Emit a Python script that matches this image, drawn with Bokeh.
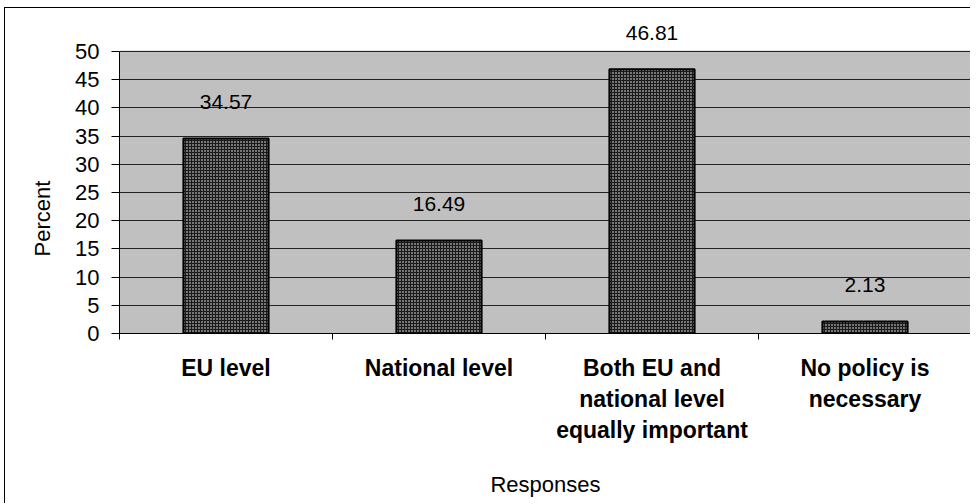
from bokeh.plotting import figure
from bokeh.models import Range1d, FixedTicker, ColumnDataSource, Label, LinearAxis, Title
from bokeh.embed import file_html
from bokeh.resources import INLINE

categories = ["EU level", "National level",
              "Both EU and\nnational level\nequally important",
              "No policy is\nnecessary"]
values = [34.57, 16.49, 46.81, 2.13]
value_labels = ["34.57", "16.49", "46.81", "2.13"]
y_ticks = [0, 5, 10, 15, 20, 25, 30, 35, 40, 45, 50]

FONT = "Liberation Sans"
n = len(categories)
y_max = y_ticks[-1]
xs = [i + 0.5 for i in range(n)]
src = ColumnDataSource(dict(x=xs, top=values, label=value_labels, cat=categories))

# y range extends a little above the gray area so the top value label has room
p = figure(width=966, height=496, x_range=Range1d(0, n), y_range=Range1d(0, 56),
           output_backend="svg", toolbar_location=None,
           x_axis_location=None, y_axis_location=None,
           min_border_left=114, min_border_top=9, min_border_right=0,
           min_border_bottom=171)
p.styles = {"border-left": "1px solid black", "border-top": "1px solid black",
            "margin-left": "4px", "margin-top": "7px"}
p.background_fill_color = "white"
p.border_fill_color = "white"
p.outline_line_color = None

# gray plot area
bg = p.quad(left=0, right=n, bottom=0, top=y_max, fill_color="#c0c0c0",
            line_color="#555555", line_width=1)
bg.level = "image"

p.vbar(x="x", top="top", width=0.4, bottom=0, source=src,
       fill_color="#1a1a1a", hatch_pattern="dot", hatch_color="white",
       hatch_scale=3, hatch_weight=1.2,
       line_color="black", line_width=2)

# value labels
for xv, yv, txt in zip(xs, values, value_labels):
    p.add_layout(Label(x=xv, y=yv, text=txt, y_offset=36,
                       text_align="center", text_baseline="alphabetic",
                       text_font=FONT, text_font_size="21px", text_color="black"))

p.xgrid.visible = False
p.ygrid.ticker = FixedTicker(ticks=y_ticks)
p.ygrid.grid_line_color = "#222222"
p.ygrid.grid_line_width = 1

# x axis with boundary ticks (no labels drawn)
xa = LinearAxis(ticker=FixedTicker(ticks=list(range(n + 1))))
xa.major_label_text_font_size = "0px"
xa.major_label_text_color = None
xa.major_label_standoff = 0
xa.major_tick_out = 6
xa.major_tick_in = 0
xa.minor_tick_line_color = None
xa.axis_line_color = "black"
xa.major_tick_line_color = "black"
p.add_layout(xa, "below")

# category label axis
xc = LinearAxis(ticker=FixedTicker(ticks=xs))
xc.major_label_overrides = {xv: c for xv, c in zip(xs, categories)}
xc.major_label_text_font = FONT
xc.major_label_text_font_size = "23px"
xc.major_label_text_font_style = "bold"
xc.major_label_text_color = "black"
xc.major_label_text_line_height = 1.2
xc.major_label_standoff = 15
xc.major_tick_out = 0
xc.major_tick_line_color = None
xc.minor_tick_line_color = None
xc.axis_line_color = None
xc.axis_label = "Responses"
xc.axis_label_text_font = FONT
xc.axis_label_text_font_size = "22px"
xc.axis_label_text_font_style = "normal"
xc.axis_label_text_color = "black"
xc.axis_label_standoff = 26
p.add_layout(xc, "below")

# y axis with ticks and labels
ya = LinearAxis(ticker=FixedTicker(ticks=y_ticks), bounds=(0, y_max))
ya.major_label_text_font = FONT
ya.major_label_text_font_size = "22px"
ya.major_label_text_color = "black"
ya.major_label_standoff = 12
ya.major_tick_out = 8
ya.major_tick_in = 0
ya.minor_tick_line_color = None
ya.axis_line_color = "black"
ya.major_tick_line_color = "black"
p.add_layout(ya, "left")

# y axis title
yt = Title(text="Percent", align="left", offset=77, standoff=36,
           text_font=FONT, text_font_size="22px", text_font_style="normal",
           text_color="black")
p.add_layout(yt, "left")

open("out.html", "w").write(file_html(p, INLINE))
